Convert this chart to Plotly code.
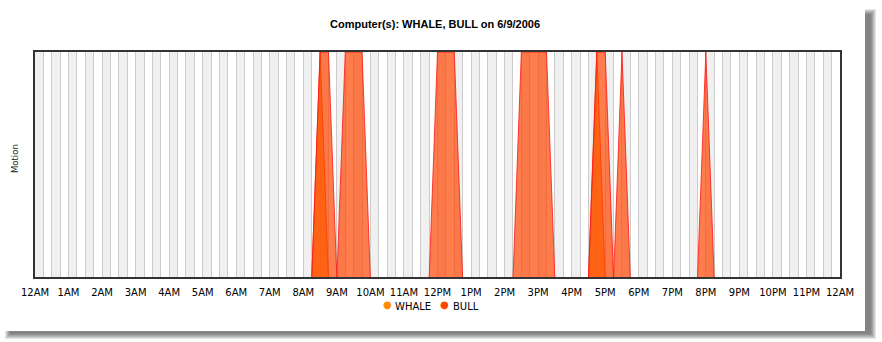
import plotly.graph_objects as go

# ---------------- data ----------------
TICK_HOURS = list(range(25))
TICK_LABELS = ["12AM", "1AM", "2AM", "3AM", "4AM", "5AM", "6AM", "7AM", "8AM", "9AM",
               "10AM", "11AM", "12PM", "1PM", "2PM", "3PM", "4PM", "5PM", "6PM", "7PM",
               "8PM", "9PM", "10PM", "11PM", "12AM"]

# sample times every 15 minutes (hours)
TIMES = [i * 0.25 for i in range(97)]

WHALE = [0, 0, 0, 0, 0, 0, 0, 0, 0, 0, 0, 0, 0, 0, 0, 0,   # 0:00-3:45
         0, 0, 0, 0, 0, 0, 0, 0, 0, 0, 0, 0, 0, 0, 0, 0,   # 4:00-7:45
         0, 0, 1, 0, 0, 0, 0, 0, 0, 0, 0, 0, 0, 0, 0, 0,   # 8:00-11:45
         0, 0, 0, 0, 0, 0, 0, 0, 0, 0, 0, 0, 0, 0, 0, 0,   # 12:00-15:45
         0, 0, 0, 1, 0, 0, 0, 0, 0, 0, 0, 0, 0, 0, 0, 0,   # 16:00-19:45
         0, 0, 0, 0, 0, 0, 0, 0, 0, 0, 0, 0, 0, 0, 0, 0,   # 20:00-23:45
         0]

BULL = [0, 0, 0, 0, 0, 0, 0, 0, 0, 0, 0, 0, 0, 0, 0, 0,    # 0:00-3:45
        0, 0, 0, 0, 0, 0, 0, 0, 0, 0, 0, 0, 0, 0, 0, 0,    # 4:00-7:45
        0, 0, 1, 1, 0, 1, 1, 1, 0, 0, 0, 0, 0, 0, 0, 0,    # 8:00-11:45
        1, 1, 1, 0, 0, 0, 0, 0, 0, 0, 1, 1, 1, 1, 0, 0,    # 12:00-15:45
        0, 0, 0, 1, 1, 0, 1, 0, 0, 0, 0, 0, 0, 0, 0, 0,    # 16:00-19:45
        1, 0, 0, 0, 0, 0, 0, 0, 0, 0, 0, 0, 0, 0, 0, 0,    # 20:00-23:45
        0]

TITLE = "Computer(s): WHALE, BULL on 6/9/2006"
Y_TITLE = "Motion"
SERIES = ["WHALE", "BULL"]
SERIES_COLORS = ["#FF8C00", "#FF4500"]

# ---------------- layout geometry ----------------
W, H = 882, 342
ML, MR, MT, MB = 35, 42, 52, 65
PW, PH = W - ML - MR, H - MT - MB


def px_x(px):
    return (px - ML) / PW


def px_y(py):
    return (H - MB - py) / PH


fig = go.Figure()

fig.add_trace(go.Scatter(
    x=TIMES, y=WHALE, mode="lines", fill="tozeroy",
    fillcolor="rgba(255,140,0,0.7)",
    line=dict(color="rgba(255,40,0,0.85)", width=1),
    name="WHALE", showlegend=False, hoverinfo="x+y"))
fig.add_trace(go.Scatter(
    x=TIMES, y=BULL, mode="lines", fill="tozeroy",
    fillcolor="rgba(255,69,0,0.7)",
    line=dict(color="rgba(255,20,20,0.8)", width=1),
    name="BULL", showlegend=False, hoverinfo="x+y"))

shapes = []
# card drop shadow
for k in range(6):
    shapes.append(dict(type="rect", xref="paper", yref="paper", layer="below",
                       x0=px_x(5 + k), x1=px_x(876 - k), y0=px_y(339 - k), y1=px_y(9 + k),
                       line=dict(width=0), fillcolor="rgba(0,0,0,0.1)"))
shapes.append(dict(type="rect", xref="paper", yref="paper", layer="below",
                   x0=px_x(0), x1=px_x(865), y0=px_y(331), y1=px_y(0),
                   line=dict(width=0), fillcolor="white"))
# alternating background bands every 15 minutes
for i in range(0, len(TIMES) - 1, 2):
    shapes.append(dict(type="rect", xref="x", yref="paper", layer="below",
                       x0=TIMES[i], x1=TIMES[i + 1], y0=0, y1=1,
                       line=dict(width=0), fillcolor="#f0f0f0"))

annotations = [
    dict(text="<b>" + TITLE + "</b>", xref="paper", yref="paper",
         x=px_x(435), y=px_y(24), xanchor="center", yanchor="middle", showarrow=False,
         font=dict(family="Liberation Sans, Arial, sans-serif", size=11, color="#000")),
    dict(text=Y_TITLE, xref="paper", yref="paper", textangle=-90,
         x=px_x(15), y=px_y(159), xanchor="center", yanchor="middle", showarrow=False,
         font=dict(family="DejaVu Sans", size=8.5, color="#222")),
]
# legend (dot + label)
leg_pos = [(387, 393), (445, 451)]
for name, col, (dx, tx) in zip(SERIES, SERIES_COLORS, leg_pos):
    annotations.append(dict(text="●", xref="paper", yref="paper", x=px_x(dx), y=px_y(304.5),
                            xanchor="center", yanchor="middle", showarrow=False,
                            font=dict(family="DejaVu Sans", size=10, color=col)))
    annotations.append(dict(text=name, xref="paper", yref="paper", x=px_x(tx), y=px_y(306.5),
                            xanchor="left", yanchor="middle", showarrow=False,
                            font=dict(family="DejaVu Sans", size=10, color="#000")))

fig.update_layout(
    width=W, height=H,
    margin=dict(l=ML, r=MR, t=MT, b=MB, pad=0),
    paper_bgcolor="white", plot_bgcolor="white",
    showlegend=False,
    shapes=shapes, annotations=annotations,
    xaxis=dict(range=[0, 24], tickmode="array", tickvals=TICK_HOURS, ticktext=TICK_LABELS,
               showgrid=True, gridcolor="#cccccc", gridwidth=1,
               minor=dict(dtick=0.25, tick0=0, showgrid=True, gridcolor="#cccccc", gridwidth=1),
               ticks="outside", ticklen=5, tickcolor="rgba(0,0,0,0)",
               tickfont=dict(family="DejaVu Sans", size=10, color="#000"),
               showline=True, linecolor="#333333", linewidth=2, mirror=True,
               zeroline=False, fixedrange=True),
    # lower bound a hair above 0 so the zero-level outline sits under the frame
    yaxis=dict(range=[0.008, 1], showticklabels=False, showgrid=False, zeroline=False,
               ticks="", showline=True, linecolor="#333333", linewidth=2, mirror=True,
               fixedrange=True),
)

fig.write_html("out.html")
